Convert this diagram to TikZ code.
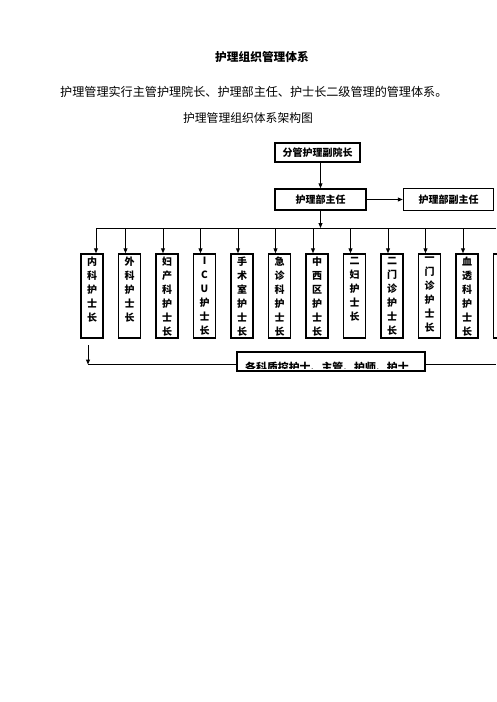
\documentclass[tikz,border=0pt]{standalone}
\usepackage{fontspec}
\setmainfont{Noto Sans CJK SC}
\usetikzlibrary{positioning,arrows.meta}

\tikzstyle{head} = [draw=black,line width=1.5pt,font=\fontsize{10}{12}\selectfont\bfseries,rectangle,text centered,inner sep=0pt]
\tikzstyle{nurse} = [draw=black,line width=1.5pt,rectangle,minimum width=22pt,minimum height=84pt,inner sep=3pt,font=\fontsize{10}{14}\selectfont\bfseries]
\tikzstyle{link} = [line width=1pt,->]
\newcommand{\vlabel}[1]{\parbox[c][78pt][t]{16pt}{\centering #1}}

\begin{document}
\begin{tikzpicture}[x=1pt,y=-1pt,node distance=37.5pt,>={Triangle[length=5pt,width=4pt]}]
	\useasboundingbox (0,0) rectangle (496,702);
	% texts
	\node (title) at (262,57) {\fontsize{11.7}{14}\selectfont\bfseries 护理组织管理体系};
	\node (intro) [anchor=west,inner sep=0pt] at (60,92) {\fontsize{12.1}{15}\selectfont 护理管理实行主管护理院长、护理部主任、护士长二级管理的管理体系。};
	\node (caption) at (248,118) {\fontsize{11.8}{14}\selectfont 护理管理组织体系架构图};
	% top boxes
	\node (vp) [head,minimum width=85pt,minimum height=19pt] at (317.5,152.5) {分管护理副院长};
	\node (dir) [head,minimum width=91pt,minimum height=21pt] at (320.5,199.5) {护理部主任};
	\node (vice) [head,minimum width=90pt,minimum height=22pt,right=36pt of dir] {护理部副主任};
	\draw [link] (dir |- vp.south) -- (dir.north);
	\draw [link] (dir) -- (vice);
	% head nurses
	\node (n1) [nurse] at (92,296) {\vlabel{内\\科\\护\\士\\长}};
	\node (n2) [nurse,right of=n1] {\vlabel{外\\科\\护\\士\\长}};
	\node (n3) [nurse,right of=n2] {\vlabel{妇\\产\\科\\护\\士\\长}};
	\node (n4) [nurse,right of=n3] {\vlabel{I\\C\\U\\护\\士\\长}};
	\node (n5) [nurse,right of=n4] {\vlabel{手\\术\\室\\护\\士\\长}};
	\node (n6) [nurse,right of=n5] {\vlabel{急\\诊\\科\\护\\士\\长}};
	\node (n7) [nurse,right of=n6] {\vlabel{中\\西\\区\\护\\士\\长}};
	\node (n8) [nurse,right of=n7] {\vlabel{二\\妇\\护\\士\\长}};
	\node (n9) [nurse,right of=n8] {\vlabel{二\\门\\诊\\护\\士\\长}};
	\node (n10) [nurse,right of=n9] {\vlabel{一\\门\\诊\\护\\士\\长}};
	\node (n11) [nurse,right of=n10] {\vlabel{血\\透\\科\\护\\士\\长}};
	\node (n12) [nurse,right of=n11] {\vlabel{}};
	\coordinate (busL) at ([xshift=4pt]n1.north |- 0,228);
	\coordinate (busR) at (496,228);
	\draw [line width=1pt] (busL) -- (busR);
	\draw [link] (dir) -- (dir |- busL);
	\draw [link] (busL) -- (busL |- n1.north);
	\foreach \i in {2,...,12}
		\draw [link] ([xshift=-4pt]n\i.north |- busL) -- ([xshift=-4pt]n\i.north);
	% staff
	\node (staff) [head,minimum width=188pt,minimum height=19pt] at (331,361.5) {};
	\begin{scope}
		\clip (237,352) rectangle (425,368.3);
		\node (stafftext) [anchor=west,inner sep=0pt,font=\fontsize{10.9}{13}\selectfont\bfseries] at (245,367.5) {各科质控护士、主管、护师、护士};
	\end{scope}
	\coordinate (up) at (88,345);
	\coordinate (lo) at (88,364.5);
	\coordinate (rb) at (496,364.5);
	\draw [link] (up) -- (lo);
	\draw [line width=1.2pt] (lo) -- (staff.west |- lo);
	\draw [line width=1.2pt] (staff.east |- lo) -- (rb);
\end{tikzpicture}
\end{document}
